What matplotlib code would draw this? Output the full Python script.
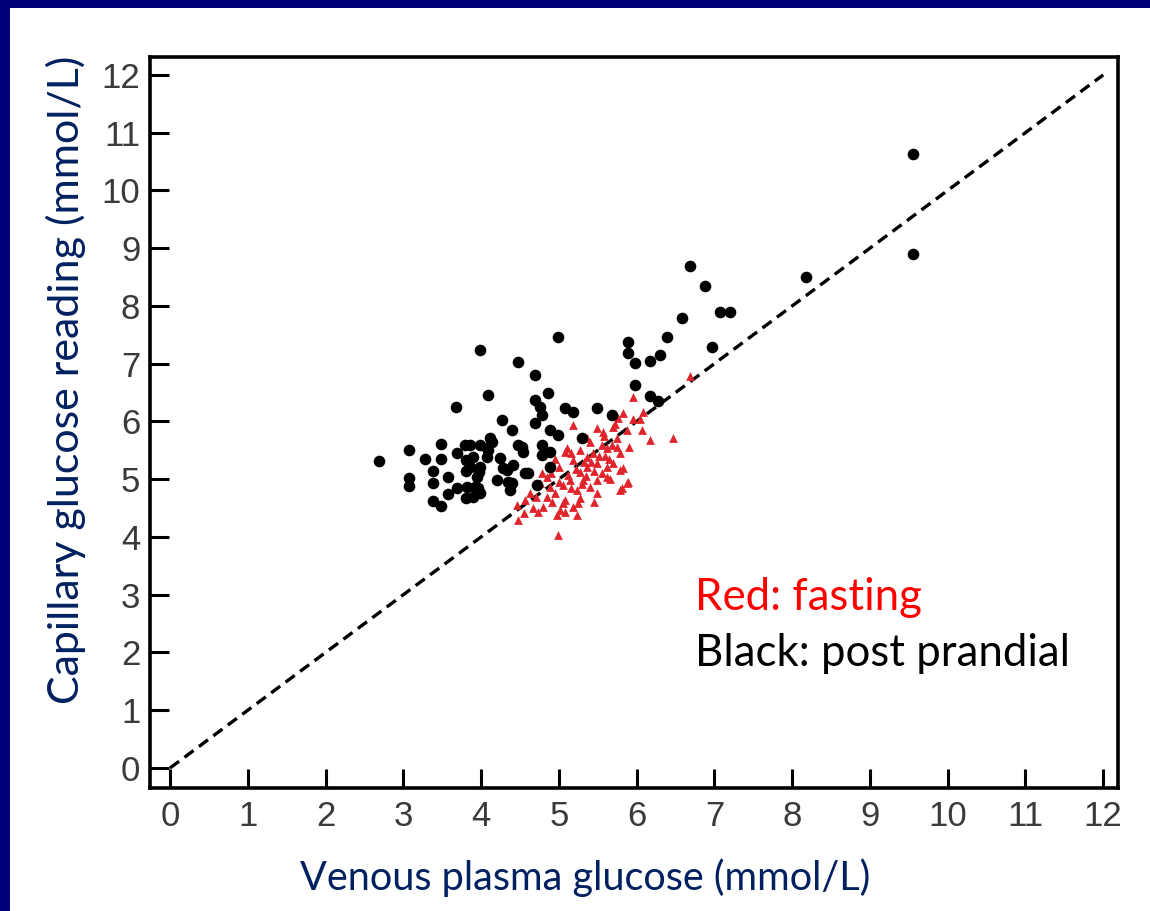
import matplotlib
matplotlib.use("Agg")
import matplotlib.pyplot as plt
from matplotlib.patches import Rectangle

# post prandial readings (black dots)
black_x = [9.56, 9.56, 8.18, 6.69, 6.88, 7.07, 7.20, 6.97, 6.59, 6.39, 6.30, 6.17,
           5.89, 5.89, 5.98, 5.98, 6.17, 6.27, 4.99, 4.48, 3.99, 4.69, 4.86, 4.09,
           3.68, 4.69, 4.76, 5.08, 5.18, 5.49, 5.68, 5.30, 4.89, 4.99, 4.78, 4.78,
           4.89, 4.72, 4.60, 4.53, 4.41, 4.28, 4.24, 4.14, 4.09, 3.99, 3.86, 3.90,
           3.86, 3.99, 3.95, 3.82, 4.35, 4.37, 4.27, 4.40, 4.78, 4.69, 2.69, 3.07,
           3.07, 3.07, 3.28, 3.38, 3.38, 3.38, 3.49, 3.49, 3.49, 3.58, 3.69, 3.69,
           3.58, 3.79, 3.81, 3.81, 3.81, 3.90, 3.96, 3.97, 4.08, 4.08, 4.12, 4.48,
           4.54, 4.89, 4.33, 4.57, 4.20, 4.40, 3.92, 3.99]
black_y = [10.63, 8.90, 8.50, 8.69, 8.35, 7.90, 7.90, 7.29, 7.79, 7.46, 7.15, 7.05,
           7.38, 7.19, 7.01, 6.63, 6.44, 6.35, 7.46, 7.03, 7.24, 6.80, 6.49, 6.46,
           6.25, 6.37, 6.25, 6.23, 6.17, 6.23, 6.11, 5.71, 5.85, 5.77, 5.59, 5.42,
           5.21, 4.90, 5.10, 5.56, 5.25, 5.19, 5.37, 5.65, 5.51, 5.59, 5.59, 5.39,
           5.21, 5.21, 5.04, 4.87, 4.95, 4.81, 6.03, 5.85, 6.11, 5.97, 5.32, 5.51,
           5.02, 4.88, 5.35, 5.14, 4.94, 4.62, 4.54, 5.61, 5.35, 5.04, 5.45, 4.85,
           4.74, 5.59, 5.33, 5.14, 4.67, 4.69, 4.85, 5.13, 5.54, 5.39, 5.71, 5.59,
           5.47, 5.47, 5.16, 5.10, 4.99, 4.93, 4.87, 4.76]

# fasting readings (red triangles)
red_x = [4.99, 4.48, 4.46, 4.57, 4.67, 4.73, 4.80, 4.91, 5.02, 4.98, 5.08, 5.08,
         5.18, 5.27, 5.23, 5.31, 5.40, 5.49, 5.49, 5.56, 5.62, 5.49, 5.36, 5.27,
         5.14, 5.05, 4.95, 4.85, 4.76, 4.85, 4.78, 4.89, 4.63, 5.08, 5.27, 5.36,
         5.44, 5.18, 5.23, 5.96, 5.83, 5.76, 5.18, 5.49, 5.57, 6.07, 6.17, 6.47,
         5.88, 5.75, 5.36, 5.11, 5.79, 5.75, 5.62, 5.70, 5.79, 5.88, 5.79, 5.62,
         6.08, 5.89, 5.81, 6.69, 5.35, 5.45, 5.65, 5.55, 5.90, 5.95, 6.05, 5.70,
         5.00, 5.12, 5.22, 5.32, 5.42, 5.52, 5.60, 5.68, 4.90, 5.00, 5.15, 5.30,
         5.40, 5.58, 5.72, 4.70, 4.55, 5.05, 5.25, 5.45, 5.66, 5.83, 4.95, 5.15]
red_y = [4.03, 4.29, 4.55, 4.64, 4.50, 4.43, 4.52, 4.61, 4.47, 4.38, 4.43, 4.64,
         4.52, 4.68, 4.81, 4.99, 4.87, 4.76, 4.99, 5.11, 5.21, 5.28, 5.21, 5.13,
         4.99, 4.90, 4.76, 4.69, 4.94, 5.04, 5.11, 4.87, 4.76, 5.47, 5.51, 5.39,
         5.45, 5.33, 4.38, 6.42, 6.15, 6.06, 5.94, 5.89, 5.82, 5.85, 5.68, 5.71,
         5.85, 5.71, 5.71, 5.54, 5.45, 5.56, 5.54, 5.28, 5.16, 4.94, 4.81, 5.04,
         6.16, 4.95, 4.85, 6.78, 5.05, 5.15, 5.35, 5.60, 5.55, 6.05, 6.05, 5.90,
         4.95, 5.08, 5.18, 5.30, 5.30, 5.40, 5.40, 5.60, 5.10, 5.22, 4.85, 4.92,
         5.65, 5.75, 5.95, 4.70, 4.42, 4.58, 4.58, 4.60, 5.00, 5.20, 5.35, 5.45]

ticks = list(range(0, 13))

plt.rcParams["font.family"] = ["Liberation Sans", "DejaVu Sans"]

fig = plt.figure(figsize=(11.5, 9.11), dpi=100)
fig.patch.set_facecolor("#00007a")
# white slide panel inside the navy border
fig.patches.append(Rectangle((10 / 1150, 0), 1, 1 - 8 / 911, transform=fig.transFigure,
                             facecolor="white", edgecolor="none", zorder=-5))

ax = fig.add_axes([150 / 1150, 1 - 788 / 911, 968 / 1150, 731 / 911])
ax.set_facecolor("white")

ax.plot([0, 12], [0, 12], color="black", lw=2.4, ls=(0, (3.4, 2.0)), zorder=1)
ax.scatter(black_x, black_y, s=70, color="black", marker="o", lw=0, zorder=3)
ax.scatter(red_x, red_y, s=40, color="#e0242b", marker="^", lw=0, zorder=2)

ax.set_xlim(-0.257, 12.19)
ax.set_ylim(-0.346, 12.31)
ax.set_xticks(ticks)
ax.set_yticks(ticks)
ax.tick_params(direction="in", length=14, width=2.2, colors="black",
               labelcolor="#3a3a3a", labelsize=25)
ax.tick_params(axis="x", pad=9)
ax.tick_params(axis="y", pad=7)
for sp in ax.spines.values():
    sp.set_linewidth(2.6)

fig.text(585 / 1150, 1 - 878 / 911, "Venous plasma glucose (mmol/L)", color="#002060",
         fontsize=28.5, family="Lato", ha="center", va="center")
fig.text(66 / 1150, 1 - 380 / 911, "Capillary glucose reading (mmol/L)", color="#002060",
         fontsize=31, family="Lato", ha="center", va="center", rotation=90)
fig.text(695 / 1150, 1 - 597 / 911, "Red: fasting", color="#ff0000",
         fontsize=31.5, family="Lato", ha="left", va="center")
fig.text(695 / 1150, 1 - 653 / 911, "Black: post prandial", color="black",
         fontsize=31.5, family="Lato", ha="left", va="center")

plt.savefig("out.png", dpi=100)
